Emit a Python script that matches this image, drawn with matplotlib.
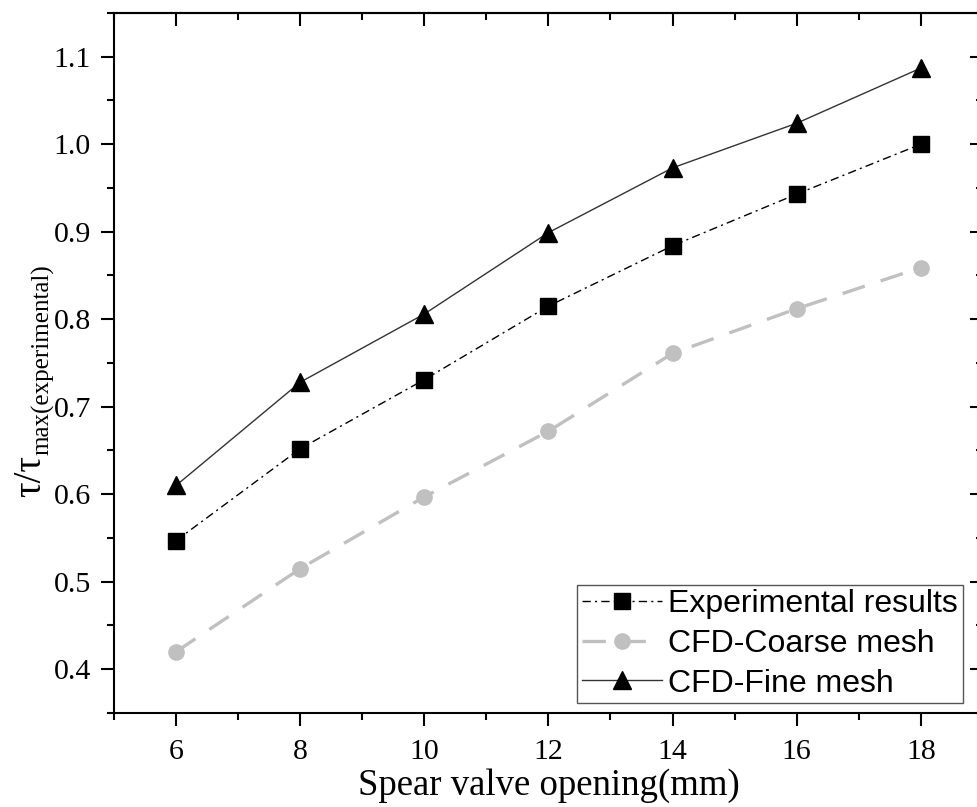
import matplotlib
matplotlib.use("Agg")
import matplotlib.pyplot as plt
from matplotlib.ticker import MultipleLocator, FormatStrFormatter

# valve opening (mm)
opening = [6, 8, 10, 12, 14, 16, 18]

# torque ratio tau / tau_max(experimental)
experimental = [0.547, 0.652, 0.731, 0.815, 0.884, 0.943, 1.000]
cfd_coarse = [0.420, 0.515, 0.597, 0.672, 0.761, 0.812, 0.859]
cfd_fine = [0.610, 0.728, 0.806, 0.899, 0.973, 1.024, 1.087]

plt.rcParams['font.family'] = ['Liberation Serif', 'DejaVu Serif']

W, H = 977, 807
fig = plt.figure(figsize=(W / 100, H / 100), dpi=100)
ax = fig.add_axes([0.1167, 0.1165, 1.006 - 0.1167, 0.9839 - 0.1165])

ax.plot(opening, experimental, color='black', linestyle=(0, (6, 3, 1.5, 3)),
        linewidth=1.0, marker='s', markersize=11, label='Experimental results')
ax.plot(opening, cfd_coarse, color='#c0c0c0', linestyle=(0, (7, 5)),
        linewidth=2.4, marker='o', markersize=11, label='CFD-Coarse mesh')
ax.plot(opening, cfd_fine, color='#333333', linestyle='-', linewidth=1.0,
        markeredgecolor='black', markerfacecolor='black',
        marker='^', markersize=13, label='CFD-Fine mesh')

ax.set_xlim(5, 19)
ax.set_ylim(0.35, 1.15)
ax.xaxis.set_major_locator(MultipleLocator(2))
ax.xaxis.set_minor_locator(MultipleLocator(1))
ax.yaxis.set_major_locator(MultipleLocator(0.1))
ax.yaxis.set_minor_locator(MultipleLocator(0.05))
ax.yaxis.set_major_formatter(FormatStrFormatter('%.1f'))

for s in ax.spines.values():
    s.set_linewidth(1.5)

ax.tick_params(axis='both', which='major', direction='out', length=9.5,
               width=1.5, labelsize=21.5, pad=7)
ax.tick_params(axis='both', which='minor', direction='out', length=5, width=1.5)
ax.tick_params(axis='x', which='major', pad=9)

# mirrored ticks pointing inward on top and right
top = ax.secondary_xaxis('top')
top.xaxis.set_major_locator(MultipleLocator(2))
top.xaxis.set_minor_locator(MultipleLocator(1))
top.tick_params(which='major', direction='in', length=9.5, width=1.5, labeltop=False)
top.tick_params(which='minor', direction='in', length=5, width=1.5)
top.spines['top'].set_linewidth(1.5)

right = ax.secondary_yaxis('right')
right.yaxis.set_major_locator(MultipleLocator(0.1))
right.yaxis.set_minor_locator(MultipleLocator(0.05))
right.tick_params(which='major', direction='in', length=9.5, width=1.5, labelright=False)
right.tick_params(which='minor', direction='in', length=5, width=1.5)
right.spines['right'].set_linewidth(1.5)

ax.set_xlabel('Spear valve opening(mm)', fontsize=26.5, labelpad=3)

# y label: tau/tau with subscript, built from two rotated texts
main = fig.text(31 / W, 1 - 497 / H, 'τ/τ', rotation=90, fontsize=28,
                ha='center', va='bottom')
fig.canvas.draw()
bb = main.get_window_extent()
fig.text(43 / W, bb.y1 / H, 'max(experimental)', rotation=90, fontsize=18,
         ha='center', va='bottom')

leg = ax.legend(loc='lower right', bbox_to_anchor=(0.988, 0.0),
                prop={'family': 'Liberation Sans', 'size': 23},
                fancybox=False, edgecolor='#555555', framealpha=1,
                handlelength=2.5, handletextpad=0.2, borderpad=0.15,
                labelspacing=0.3, borderaxespad=0.3)
leg.get_frame().set_linewidth(1.0)

fig.savefig('out.png', dpi=100)
